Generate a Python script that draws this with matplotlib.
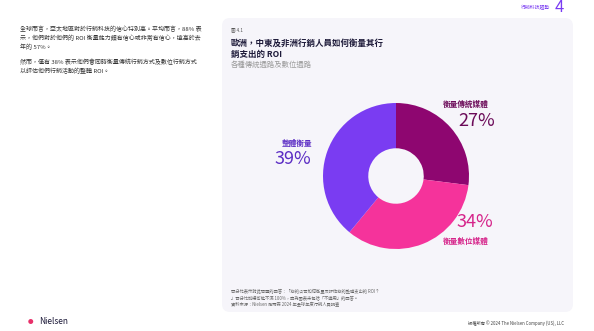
import matplotlib.pyplot as plt
from matplotlib.patches import FancyBboxPatch

plt.rcParams['font.family'] = ['Noto Sans CJK TC', 'DejaVu Sans']

# data
labels = ['衡量傳統媒體', '衡量數位媒體', '整體衡量']
values = [27, 34, 39]
colors = ['#8E0670', '#F5339B', '#7A3CF2']
text_colors = ['#6B0A58', '#D6248A', '#5B2CC4']

intro_lines = [
    '全球而言，亞太地區對於行銷科技的信心特別高。平均而言，88% 表',
    '示，他們對於他們的 ROI 衡量能力頗有信心或非常有信心，遠高於去',
    '年的 57%。',
]
intro_lines2 = [
    '然而，僅有 38% 表示他們會同時衡量傳統行銷方式及數位行銷方式',
    '以評估他們行銷活動的整體 ROI。',
]
note_lines = [
    '百分比表示對此問題的回答：「您的公司如何衡量及評估您的整體支出的 ROI？',
    '」百分比加總可能不滿 100%，因為圖表未包括「不適用」的回答。',
    '資料來源：Nielsen 尼爾森 2024 年全球年度行銷人員調查',
]

W, H = 594, 331
fig = plt.figure(figsize=(W / 100, H / 100), dpi=100)
fig.patch.set_facecolor('white')

# background axes in pixel coordinates
bg = fig.add_axes([0, 0, 1, 1])
bg.set_xlim(0, W)
bg.set_ylim(H, 0)
bg.axis('off')

card = FancyBboxPatch((222, 18), 351, 294, boxstyle='round,pad=0,rounding_size=8',
                      facecolor='#F6F5FA', edgecolor='none')
bg.add_patch(card)

# header top right
bg.text(550, 8, '行銷科技趨勢', fontsize=3.5, color='#7A3CF2', ha='right', va='center')
bg.text(555, 8, '4', fontsize=12, color='#7A3CF2', ha='left', va='center')

# left text
for i, line in enumerate(intro_lines):
    bg.text(20, 29.5 + i * 8.7, line, fontsize=4.3, color='#333333', va='center')
for i, line in enumerate(intro_lines2):
    bg.text(20, 62 + i * 8.7, line, fontsize=4.3, color='#333333', va='center')

# card title
bg.text(231, 30, '圖 4.1', fontsize=3.3, color='#555555', va='center')
bg.text(231, 43, '歐洲，中東及非洲行銷人員如何衡量其行', fontsize=6.1, color='#1E1B3A',
        fontweight='bold', va='center')
bg.text(231, 54, '銷支出的 ROI', fontsize=6.1, color='#1E1B3A', fontweight='bold', va='center')
bg.text(231, 65, '各種傳統通路及數位通路', fontsize=5.3, color='#9A9A9A', style='italic',
        va='center')

# notes
for i, line in enumerate(note_lines):
    bg.text(231, 292 + i * 6, line, fontsize=3.1, color='#666666', va='center')

# footer
bg.text(28, 322, '●', fontsize=4, color='#E8306A', va='center')
bg.text(39, 322, 'Nielsen', fontsize=6, color='#1E1B3A', va='center')
bg.text(468, 323, '版權所有 © 2024 The Nielsen Company (US), LLC', fontsize=3.1,
        color='#444444', va='center')

# donut
cx, cy, r = 396, 176, 73
pax = fig.add_axes([(cx - r) / W, (H - cy - r) / H, 2 * r / W, 2 * r / H])
pax.pie(values, colors=colors, startangle=90, counterclock=False,
        wedgeprops=dict(width=0.62, edgecolor='none'))
pax.set_xlim(-1, 1)
pax.set_ylim(-1, 1)
pax.axis('off')

# labels
bg.text(466, 104, labels[0], fontsize=5.5, color=text_colors[0], fontweight='bold',
        ha='center', va='center')
bg.text(477, 121, f'{values[0]}%', fontsize=13, color=text_colors[0], fontweight='light',
        ha='center', va='center')
bg.text(475, 222, f'{values[1]}%', fontsize=13, color=text_colors[1], fontweight='light',
        ha='center', va='center')
bg.text(466, 241, labels[1], fontsize=5.5, color=text_colors[1], fontweight='bold',
        ha='center', va='center')
bg.text(297, 143, labels[2], fontsize=5.5, color=text_colors[2], fontweight='bold',
        ha='center', va='center')
bg.text(293, 159, f'{values[2]}%', fontsize=13, color=text_colors[2], fontweight='light',
        ha='center', va='center')

fig.savefig('out.png', dpi=100)
